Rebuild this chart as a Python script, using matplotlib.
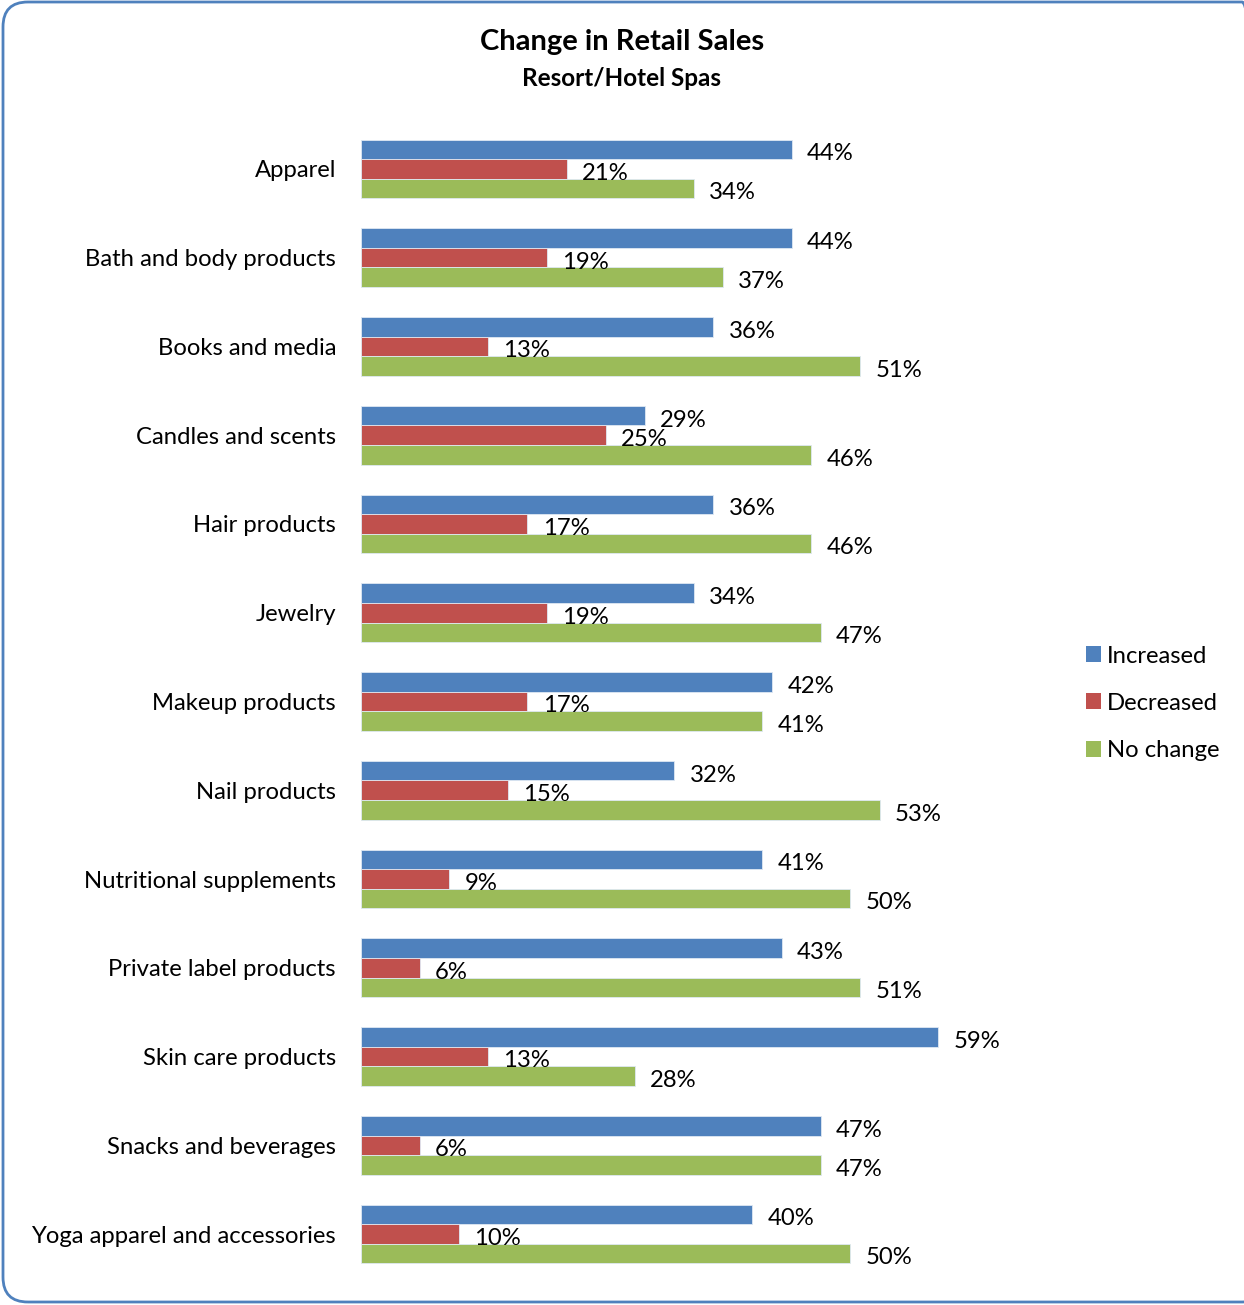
import matplotlib.pyplot as plt
import numpy as np
from matplotlib.patches import FancyBboxPatch, Patch

plt.rcParams['font.family'] = ['Lato', 'DejaVu Sans']

# data
categories = ["Apparel", "Bath and body products", "Books and media", "Candles and scents",
              "Hair products", "Jewelry", "Makeup products", "Nail products",
              "Nutritional supplements", "Private label products", "Skin care products",
              "Snacks and beverages", "Yoga apparel and accessories"]
increased = [44, 44, 36, 29, 36, 34, 42, 32, 41, 43, 59, 47, 40]
decreased = [21, 19, 13, 25, 17, 19, 17, 15, 9, 6, 13, 6, 10]
no_change = [34, 37, 51, 46, 46, 47, 41, 53, 50, 51, 28, 47, 50]

series = [("Increased", increased, "#4F81BD"),
          ("Decreased", decreased, "#C0504D"),
          ("No change", no_change, "#9BBB59")]

W, H = 1244, 1305
FS = 17.2
fig = plt.figure(figsize=(W / 100, H / 100), dpi=100)

# rounded chart border, right edge runs off the image
border = FancyBboxPatch((3 / W, 3 / H), (W + 20) / W, (H - 5) / H,
                        boxstyle="round,pad=0,rounding_size=0.02",
                        transform=fig.transFigure, facecolor="none",
                        edgecolor="#4F81BD", linewidth=2, mutation_aspect=W / H)
fig.patches.append(border)

ax = fig.add_axes([361 / W, 1 - 1278.4 / H, 685 / W, (1278.4 - 124.6) / H])
ax.set_facecolor("none")

n = len(categories)
y = np.arange(n)
h = 0.22
for k, (name, vals, col) in enumerate(series):
    yy = y + (k - 1) * h
    ax.barh(yy, vals, height=h, color=col, edgecolor="#dfe8f3", linewidth=0.6, label=name)
    for yi, v in zip(yy, vals):
        ax.annotate(f"{v}%", (v, yi), xytext=(11, -3.2), textcoords="offset points",
                    va="center", ha="left", fontsize=FS, color="black")

ax.set_xlim(0, 70)
ax.set_ylim(n - 0.5, -0.5)
ax.set_yticks(y)
ax.set_yticklabels(categories, fontsize=FS)
ax.tick_params(axis="y", length=0, pad=18)
ax.set_xticks([])
for s in ax.spines.values():
    s.set_visible(False)

fig.text(0.5, 1 - 42 / H, "Change in Retail Sales", ha="center", va="center",
         fontsize=21, fontweight="bold")
fig.text(0.5, 1 - 78 / H, "Resort/Hotel Spas", ha="center", va="center",
         fontsize=17.5, fontweight="bold")

handles = [Patch(facecolor=c, label=nm) for nm, _, c in series]
fig.legend(handles=handles, loc="upper left", bbox_to_anchor=(1076 / W, 1 - 636 / H),
           frameon=False, fontsize=FS, handlelength=0.65, handleheight=0.65,
           handletextpad=0.25, labelspacing=1.1, borderaxespad=0)

fig.savefig("out.png", dpi=100)
